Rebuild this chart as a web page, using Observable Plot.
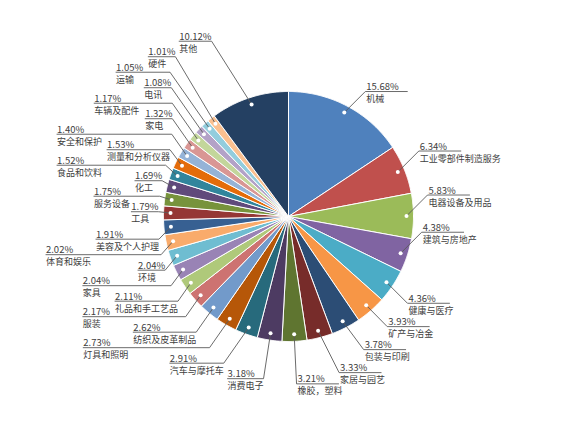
<!DOCTYPE html>
<html><head><meta charset="utf-8">
<script src="https://cdn.jsdelivr.net/npm/d3@7"></script>
<script src="https://cdn.jsdelivr.net/npm/@observablehq/plot@0.6"></script>
<style>html,body{margin:0;padding:0;background:#fff;} #chart{width:565px;height:424px;}</style>
</head><body><div id="chart"></div>
<script>
// ---- data ----
const categories = ["机械","工业零部件制造服务","电器设备及用品","建筑与房地产","健康与医疗","矿产与冶金","包装与印刷","家居与园艺","橡胶，塑料","消费电子","汽车与摩托车","灯具和照明","纺织及皮革制品","服装","礼品和手工艺品","家具","环境","体育和娱乐","美容及个人护理","工具","服务设备","化工","食品和饮料","测量和分析仪器","安全和保护","家电","车辆及配件","电讯","运输","硬件","其他"];
const shares = [15.68,6.34,5.83,4.38,4.36,3.93,3.78,3.33,3.21,3.18,2.91,2.73,2.62,2.17,2.11,2.04,2.04,2.02,1.91,1.79,1.75,1.69,1.52,1.53,1.40,1.32,1.17,1.08,1.05,1.01,10.12];
const shareLabels = shares.map(v => v.toFixed(2) + "%");
const palette = ["#4F81BD","#C0504D","#9BBB59","#8064A2","#4BACC6","#F79646",
                 "#2C4D75","#772C2A","#5F7530","#4D3B62","#276A7C","#B65708",
                 "#729ACA","#CD7371","#AFC97A","#9983B5","#6FBDD1","#F9AB6B",
                 "#376092","#953735","#77933C","#604A7B","#31859C","#E46C0A",
                 "#95B3D7","#D99694","#C3D69B","#B3A2C7","#93CDDD","#FAC090",
                 "#244062"];

// ---- layout constants ----
const W = 565, H = 424, cx = 288, cy = 216, R = 125, RD = 118;
const FONT = '"Noto Sans CJK SC", sans-serif';
const ctx = document.createElement("canvas").getContext("2d");
function tw(s, size) { ctx.font = `${size}px "Noto Sans CJK SC"`; return ctx.measureText(s).width; }

const arcs = d3.pie().sort(null).value(d => d)(shares);
const slices = arcs.map((a, i) => {
  const m = (a.startAngle + a.endAngle) / 2;
  return {i, name: categories[i], val: shareLabels[i], color: palette[i],
    a0: a.startAngle, a1: a.endAngle, m, s: Math.sin(m), c: Math.cos(m),
    dx: RD * Math.sin(m), dy: -RD * Math.cos(m),
    wv: tw(shareLabels[i], 9.5), wn: tw(categories[i], 9)};
});
slices.forEach(d => d.bw = Math.max(d.wv, d.wn));

// slice polygons
const polyPts = [];
slices.forEach(d => {
  polyPts.push({k: d.i, x: 0, y: 0, color: d.color});
  const n = Math.max(2, Math.ceil((d.a1 - d.a0) / (Math.PI / 360)));
  for (let j = 0; j <= n; j++) {
    const a = d.a0 + (d.a1 - d.a0) * j / n;
    polyPts.push({k: d.i, x: R * Math.sin(a), y: -R * Math.cos(a), color: d.color});
  }
  polyPts.push({k: d.i, x: 0, y: 0, color: d.color});
});

// label spreading (cluster merge)
function spread(items, s) {
  items.sort((a, b) => a.t - b.t);
  const groups = items.map(d => ({members: [d]}));
  const base = g => d3.mean(g.members, (d, i) => d.t - i * s);
  groups.forEach(g => g.b = base(g));
  let merged = true;
  while (merged) {
    merged = false;
    for (let k = 0; k < groups.length - 1; k++) {
      const g = groups[k], h = groups[k + 1];
      if (g.b + g.members.length * s > h.b + 1e-9) {
        g.members = g.members.concat(h.members); g.b = base(g);
        groups.splice(k + 1, 1); merged = true; break;
      }
    }
  }
  groups.forEach(g => g.members.forEach((d, i) => d.ly = g.b + i * s));
}
const boxes = d => [
  {x0: d.tx, x1: d.tx + d.wv, y0: d.ly - 10.5, y1: d.ly},
  {x0: d.tx, x1: d.tx + d.wn, y0: d.ly + 1.5, y1: d.ly + 12.5}];
function hit(a, b) {
  for (const p of boxes(a)) for (const q of boxes(b))
    if (p.x0 < q.x1 + 1 && q.x0 < p.x1 + 1 && p.y0 < q.y1 && q.y0 < p.y1) return q;
  return null;
}

const right = slices.filter(d => d.m < Math.PI);
const left = slices.filter(d => d.m >= Math.PI);
const vertical = d => Math.abs(d.s) < 0.2;

right.forEach(d => {
  if (vertical(d)) d.t = d.dy + (d.c < 0 ? 42 : -42);
  else d.t = d.dy + (d.m < 0.32 * 2 * Math.PI ? -21 : 21);
});
left.forEach(d => {
  if (vertical(d)) d.t = d.dy + (d.c < 0 ? 42 : -42);
  else d.t = d.dy + (d.dy < 0 ? -30 : 21);
});
spread(right, 15);
spread(left, 15.5);

const rightElbow = d => vertical(d) ? d.dx + d.s / Math.abs(d.c) * Math.abs(d.ly - d.dy) : d.dx + 21;
const leftElbow = d => vertical(d) ? d.dx + d.s / Math.abs(d.c) * Math.abs(d.ly - d.dy)
                                   : d.dx - Math.max(12, Math.min(40, 0.7 * Math.abs(d.ly - d.dy)));

// right side: text starts at the elbow; a label that collides with the one above moves down
const placedR = [];
right.slice().sort((a, b) => a.ly - b.ly).forEach(d => {
  for (let g = 0; g < 100; g++) {
    d.ex = rightElbow(d); d.tx = d.ex + 1;
    if (!placedR.some(p => hit(d, p))) break;
    d.ly += 0.5;
  }
  d.ulEnd = Math.max(d.ex + 42, d.tx + d.wv + 2);
  placedR.push(d);
});

// left side: alternate near / far columns inside each crowded cluster;
// the label closest to the pie's horizontal axis stays in the near column
left.forEach(d => d.ex = leftElbow(d));
const Ls = left.slice().sort((a, b) => a.ly - b.ly);
const clusters = [];
Ls.forEach((d, i) => {
  if (i === 0 || d.ly - Ls[i - 1].ly > 23) clusters.push([d]);
  else clusters[clusters.length - 1].push(d);
});
clusters.forEach(cl => {
  const pivot = d3.minIndex(cl, d => Math.abs(d.ly));
  const P = pivot % 2;
  cl.forEach((d, i) => { if (i % 2 === P) d.tx = d.ex - d.bw; });
  cl.forEach((d, i) => {
    if (i % 2 === P) return;
    let rgt = d.ex;
    for (let g = 0; g < 20; g++) {
      d.tx = rgt - d.bw;
      const q = cl.find((p, j) => j % 2 === P && hit(d, p));
      if (!q) break;
      rgt = Math.min(rgt, q.tx - 5);
    }
  });
});
left.forEach(d => d.ulEnd = d.tx);

const leaderPts = [];
slices.forEach(d => {
  leaderPts.push({k: d.i, x: d.dx, y: d.dy});
  leaderPts.push({k: d.i, x: d.ex, y: d.ly});
  leaderPts.push({k: d.i, x: d.ulEnd, y: d.ly});
});

const chart = Plot.plot({
  width: W, height: H, margin: 0,
  style: {fontFamily: FONT, background: "#fff", overflow: "visible"},
  x: {domain: [-cx, W - cx], range: [0, W], axis: null},
  y: {domain: [-cy, H - cy], range: [0, H], axis: null},
  color: {type: "identity"},
  marks: [
    Plot.line(polyPts, {x: "x", y: "y", z: "k", fill: "color", stroke: "#fff", strokeWidth: 1, curve: "linear"}),
    Plot.line(leaderPts, {x: "x", y: "y", z: "k", stroke: "#5a5a5a", strokeWidth: 0.9, curve: "linear"}),
    Plot.dot(slices, {x: "dx", y: "dy", r: 2, fill: "#fff", stroke: "none"}),
    Plot.text(slices, {x: "tx", y: "ly", text: "val", textAnchor: "start", lineAnchor: "bottom", dy: -1.5, fontSize: 9.5, fill: "#404040"}),
    Plot.text(slices, {x: "tx", y: "ly", text: "name", textAnchor: "start", lineAnchor: "bottom", dy: 10.5, fontSize: 9, fill: "#404040"})
  ]
});
document.getElementById("chart").appendChild(chart);
</script></body></html>
